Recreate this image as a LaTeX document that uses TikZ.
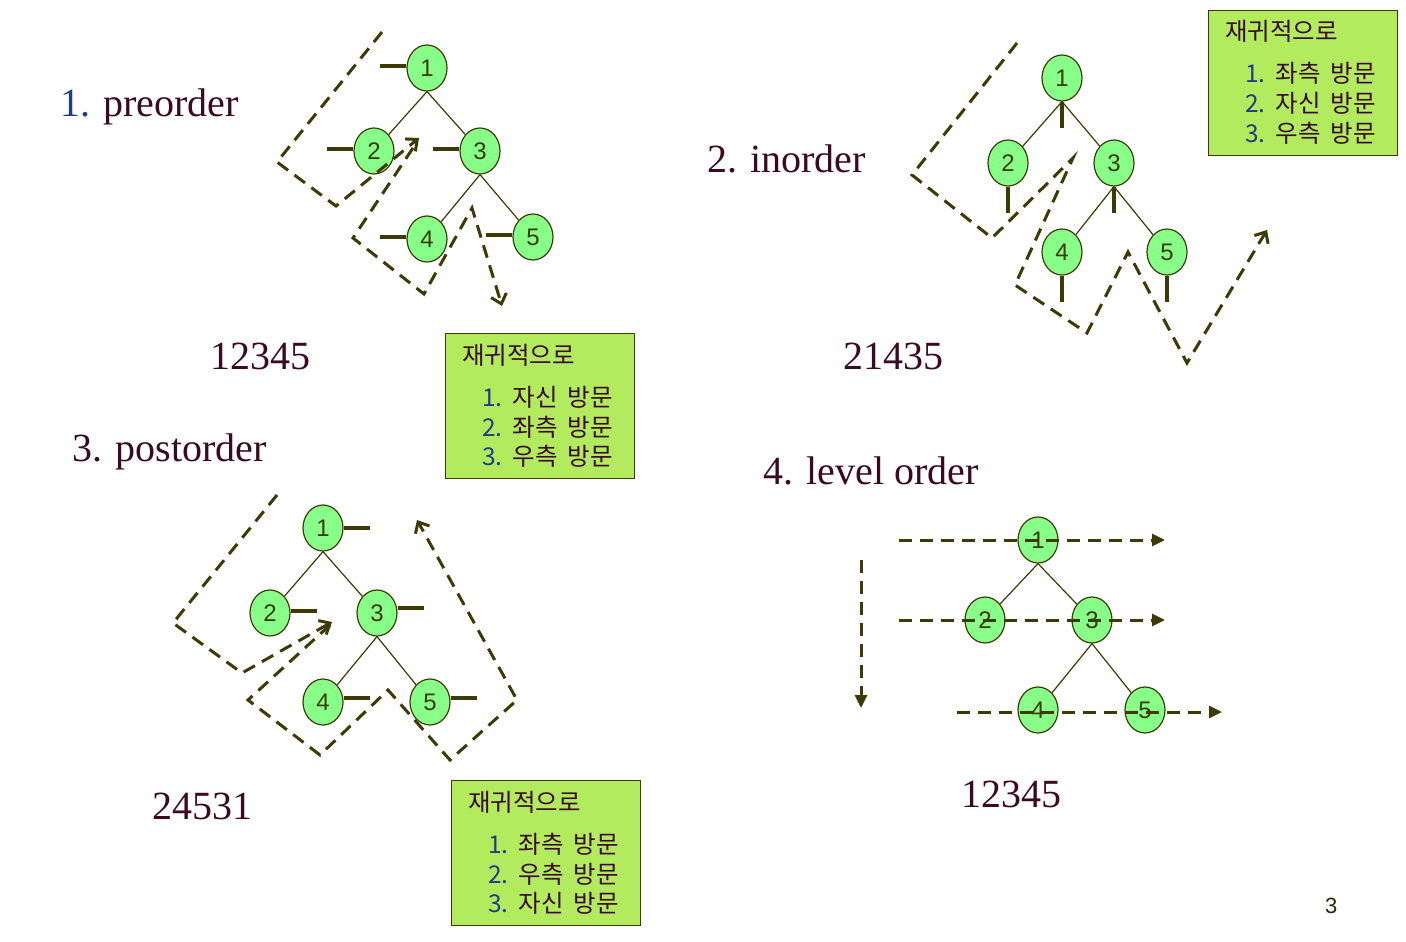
\documentclass[tikz,border=0pt]{standalone}
\usepackage{fontspec}
\setmainfont{Liberation Serif}
\setsansfont{Liberation Sans}
\newfontfamily\krfont{Noto Sans CJK KR}
\usetikzlibrary{shapes.geometric,arrows.meta}
\definecolor{maroon}{HTML}{3A0A20}
\definecolor{numblue}{HTML}{1F3C88}
\definecolor{olive}{HTML}{3D3A06}
\definecolor{nodegreen}{HTML}{88FF88}
\definecolor{boxgreen}{HTML}{B3EB5F}
\newcommand\ksp{\hspace{10pt}}
\begin{document}
\begin{tikzpicture}[x=1pt,y=-1pt,
  tn/.style={ellipse, draw=olive, line width=1.2pt, fill=nodegreen, minimum width=40pt, minimum height=46pt, inner sep=0pt, font=\sffamily\fontsize{24}{24}\selectfont, text=olive},
  edge/.style={draw=olive, line width=1.2pt},
  stub/.style={draw=olive, line width=4.5pt},
  walk/.style={draw=olive, line width=3pt, dash pattern=on 13pt off 8pt, line join=miter},
  barb/.style={-{Straight Barb[length=9pt,width=16pt,line width=3pt]}},
  tri/.style={-{Triangle[length=13pt,width=12pt]}},
  big/.style={inner sep=0pt, anchor=base west, text=maroon, font=\fontsize{40}{48}\selectfont},
  kbox/.style={draw=olive, line width=1.2pt, fill=boxgreen, minimum width=189pt, minimum height=145pt, anchor=north west, inner sep=0pt},
  ktxt/.style={inner sep=0pt, anchor=base west, text=maroon, font=\krfont\fontsize{24.5}{24.5}\selectfont},
]
\useasboundingbox[fill=white] (0,0) rectangle (1406,942);

% ---------- titles ----------
\node[big, text=numblue] (t1n) at (60,116) {1.};
\node[big] (t1) at (103,116) {preorder};
\node[big] (r1) at (210,369) {12345};
\node[big] (t2) at (707,172) {2. inorder};
\node[big] (r2) at (843,369) {21435};
\node[big] (t3) at (72,461) {3. postorder};
\node[big] (r3) at (152,819) {24531};
\node[big] (t4) at (763,484) {4. level order};
\node[big] (r4) at (961,807) {12345};
\node[inner sep=0pt, anchor=base west, text=olive!70!black, font=\sffamily\fontsize{22}{22}\selectfont] (pg) at (1325,913) {3};

% ---------- preorder ----------
\node[tn] (p1) at (427,68) {1};
\node[tn] (p2) at (374,151) {2};
\node[tn] (p3) at (480,151) {3};
\node[tn] (p4) at (427,239) {4};
\node[tn] (p5) at (533,237) {5};
\draw[edge] (p1.south) -- (p2);
\draw[edge] (p1.south) -- (p3);
\draw[edge] (p3.south) -- (p4);
\draw[edge] (p3.south) -- (p5);
\foreach \n in {p1,p2,p3,p4,p5} \draw[stub] ([yshift=2pt]\n.west) -- ++(-26,0);
\draw[walk, barb] (382,32) -- (277,162) -- (336,206) -- (419,138);
\draw[walk, barb] (413,148) -- (353,238) -- (424,294) -- (472,208) -- (502,306);

% ---------- inorder ----------
\node[tn] (i1) at (1062,78) {1};
\node[tn] (i2) at (1008,163) {2};
\node[tn] (i3) at (1114,163) {3};
\node[tn] (i4) at (1062,252) {4};
\node[tn] (i5) at (1167,252) {5};
\draw[edge] (i1.south) -- (i2);
\draw[edge] (i1.south) -- (i3);
\draw[edge] (i3.south) -- (i4);
\draw[edge] (i3.south) -- (i5);
\foreach \n in {i1,i2,i3,i4,i5} \draw[stub] (\n.south) -- ++(0,26);
\draw[walk, barb] (1017,43) -- (912,175) -- (992,238) -- (1073,158) -- (1015,285) -- (1087,333) -- (1128,252) -- (1187,363) -- (1267,230);

% ---------- postorder ----------
\node[tn] (q1) at (323,528) {1};
\node[tn] (q2) at (270,613) {2};
\node[tn] (q3) at (377,613) {3};
\node[tn] (q4) at (323,702) {4};
\node[tn] (q5) at (430,702) {5};
\draw[edge] (q1.south) -- (q2);
\draw[edge] (q1.south) -- (q3);
\draw[edge] (q3.south) -- (q4);
\draw[edge] (q3.south) -- (q5);
\draw[stub] (q1.east) -- ++(26,0);
\draw[stub] ([yshift=2pt]q2.east) -- ++(26,0);
\draw[stub] ([yshift=5pt]q3.east) -- ++(26,0);
\draw[stub] ([yshift=4pt]q4.east) -- ++(26,0);
\draw[stub] ([yshift=4pt]q5.east) -- ++(26,0);
\draw[walk, barb] (277,495) -- (173,623) -- (242,673) -- (332,622);
\draw[walk, barb] (330,625) -- (248,700) -- (320,755) -- (388,690) -- (450,760) -- (517,700) -- (417,520);

% ---------- level order ----------
\node[tn] (l1) at (1038,540) {1};
\node[tn] (l2) at (985,620) {2};
\node[tn] (l3) at (1092,620) {3};
\node[tn] (l4) at (1038,710) {4};
\node[tn] (l5) at (1145,710) {5};
\draw[edge] (l1.south) -- (l2);
\draw[edge] (l1.south) -- (l3);
\draw[edge] (l3.south) -- (l4);
\draw[edge] (l3.south) -- (l5);
\coordinate (a1s) at (899,540); \coordinate (a1e) at (1165,540);
\coordinate (a2s) at (899,620); \coordinate (a2e) at (1165,620);
\coordinate (a3s) at (957,712); \coordinate (a3e) at (1222,712);
\coordinate (avs) at (861,560); \coordinate (ave) at (861,708);
\draw[walk, tri] (a1s) -- (a1e);
\draw[walk, tri] (a2s) -- (a2e);
\draw[walk, tri] (a3s) -- (a3e);
\draw[walk, tri] (avs) -- (ave);

% ---------- boxes ----------
\begin{scope}[shift={(445,333)}]
\node[kbox] (b1) at (0,0) {};
\node[ktxt] (b1t) at (17,31) {재귀적으로};
\node[ktxt] (b1a) at (37,73) {\textcolor{numblue}{1.}\ksp 자신\ksp 방문};
\node[ktxt] (b1b) at (37,103) {\textcolor{numblue}{2.}\ksp 좌측\ksp 방문};
\node[ktxt] (b1c) at (37,132) {\textcolor{numblue}{3.}\ksp 우측\ksp 방문};
\end{scope}
\begin{scope}[shift={(1208,10)}]
\node[kbox] (b2) at (0,0) {};
\node[ktxt] (b2t) at (17,31) {재귀적으로};
\node[ktxt] (b2a) at (37,73) {\textcolor{numblue}{1.}\ksp 좌측\ksp 방문};
\node[ktxt] (b2b) at (37,103) {\textcolor{numblue}{2.}\ksp 자신\ksp 방문};
\node[ktxt] (b2c) at (37,132) {\textcolor{numblue}{3.}\ksp 우측\ksp 방문};
\end{scope}
\begin{scope}[shift={(451,780)}]
\node[kbox] (b3) at (0,0) {};
\node[ktxt] (b3t) at (17,31) {재귀적으로};
\node[ktxt] (b3a) at (37,73) {\textcolor{numblue}{1.}\ksp 좌측\ksp 방문};
\node[ktxt] (b3b) at (37,103) {\textcolor{numblue}{2.}\ksp 우측\ksp 방문};
\node[ktxt] (b3c) at (37,132) {\textcolor{numblue}{3.}\ksp 자신\ksp 방문};
\end{scope}
\end{tikzpicture}
\end{document}
